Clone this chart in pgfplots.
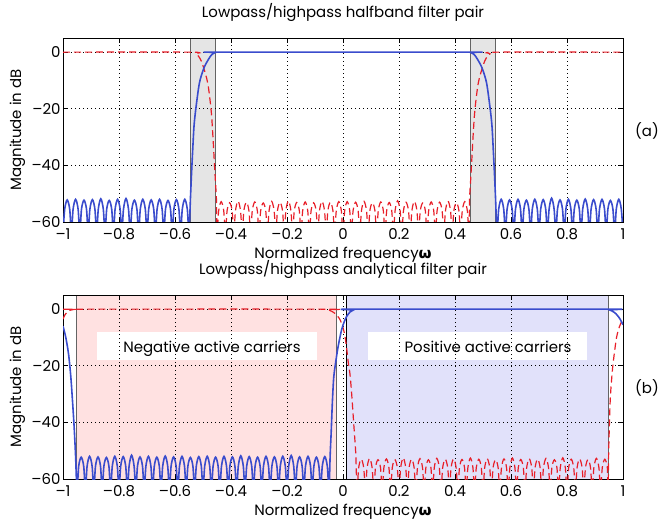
\documentclass[border=0pt]{standalone}
\usepackage{fontspec}
\setmainfont{Poppins}
\newfontfamily\grk{DejaVu Sans}
\usepackage{pgfplots}
\pgfplotsset{compat=1.18}

\newcommand\fs{\fontsize{15}{17}\selectfont}
\definecolor{lpblue}{RGB}{58,76,205}
\definecolor{hpred}{RGB}{232,30,40}
\definecolor{bandgray}{RGB}{229,229,229}
\definecolor{negpink}{RGB}{255,225,225}
\definecolor{poslav}{RGB}{225,225,250}
\definecolor{edgegray}{RGB}{100,100,100}

\pgfplotsset{
  mlab/.style={
    width=560bp, height=184bp, scale only axis,
    xmin=-1, xmax=1, ymin=-60, ymax=5,
    xtick={-1,-0.8,-0.6,-0.4,-0.2,0,0.2,0.4,0.6,0.8,1},
    xticklabels={–1,–0.8,–0.6,–0.4,–0.2,0,0.2,0.4,0.6,0.8,1},
    ytick={-60,-40,-20,0},
    yticklabels={–60,–40,–20,0},
    tick align=inside, major tick length=5bp,
    tick style={black, line width=0.6bp},
    grid=major,
    major grid style={black, line width=0.7bp, dash pattern=on 1bp off 3bp},
    axis line style={black, line width=0.8bp},
    tick label style={font=\fs},
    xticklabel style={yshift=-3bp},
    yticklabel style={xshift=1bp},
    set layers,
    xlabel={Normalized frequency{\grk\bfseries ω}},
    ylabel={Magnitude in dB},
    label style={font=\fs},
    xlabel style={at={(axis description cs:0.5,-0.196)}, anchor=base},
    ylabel style={at={(axis description cs:-0.075,0.5)}, anchor=base},
    title style={at={(axis description cs:0.5,1.08)}, anchor=base, font=\fs},
  },
  lp/.style={lpblue, line width=1.6bp, smooth, tension=0.5},
  hp/.style={hpred, line width=1.2bp, smooth, tension=0.5, dash pattern=on 7bp off 4bp},
}

\begin{document}
\begin{tikzpicture}
% ---------------- (a) halfband pair ----------------
\begin{axis}[mlab, at={(0,0)}, title={Lowpass/highpass halfband filter pair}]
\begin{pgfonlayer}{axis background}
  \fill[bandgray] (axis cs:-0.546,-60) rectangle (axis cs:-0.454,5);
  \fill[bandgray] (axis cs:0.454,-60) rectangle (axis cs:0.546,5);
  \draw[edgegray, line width=0.8bp] (axis cs:-0.546,-60) -- (axis cs:-0.546,5)
        (axis cs:-0.454,-60) -- (axis cs:-0.454,5)
        (axis cs:0.454,-60) -- (axis cs:0.454,5)
        (axis cs:0.546,-60) -- (axis cs:0.546,5);
\end{pgfonlayer}
\addplot[hp] table {
-1.000 0
-0.545 0
-0.525 -0.6
-0.512 -2
-0.500 -4.8
-0.483 -11
-0.471 -20.5
-0.465 -29
-0.460 -38
-0.456 -45
-0.452 -52
-0.450 -64
-0.444 -56
-0.435 -52.8
-0.426 -56
-0.420 -64
-0.414 -56
-0.405 -53.2
-0.396 -56
-0.390 -64
-0.384 -56
-0.375 -52.6
-0.366 -56
-0.360 -64
-0.354 -56
-0.345 -53.0
-0.336 -56
-0.330 -64
-0.324 -56
-0.315 -52.9
-0.306 -56
-0.300 -64
-0.294 -56
-0.285 -53.3
-0.276 -56
-0.270 -64
-0.264 -56
-0.255 -52.7
-0.246 -56
-0.240 -64
-0.234 -56
-0.225 -53.0
-0.216 -56
-0.210 -64
-0.204 -56
-0.195 -52.5
-0.186 -56
-0.180 -64
-0.174 -56
-0.165 -53.1
-0.156 -56
-0.150 -64
-0.144 -56
-0.135 -52.9
-0.126 -56
-0.120 -64
-0.114 -56
-0.105 -53.2
-0.096 -56
-0.090 -64
-0.084 -56
-0.075 -52.7
-0.066 -56
-0.060 -64
-0.054 -56
-0.045 -53.0
-0.036 -56
-0.030 -64
-0.024 -56
-0.015 -52.8
-0.006 -56
0.000 -64
0.006 -56
0.015 -52.8
0.024 -56
0.030 -64
0.036 -56
0.045 -53.0
0.054 -56
0.060 -64
0.066 -56
0.075 -52.7
0.084 -56
0.090 -64
0.096 -56
0.105 -53.2
0.114 -56
0.120 -64
0.126 -56
0.135 -52.9
0.144 -56
0.150 -64
0.156 -56
0.165 -53.1
0.174 -56
0.180 -64
0.186 -56
0.195 -52.5
0.204 -56
0.210 -64
0.216 -56
0.225 -53.0
0.234 -56
0.240 -64
0.246 -56
0.255 -52.7
0.264 -56
0.270 -64
0.276 -56
0.285 -53.3
0.294 -56
0.300 -64
0.306 -56
0.315 -52.9
0.324 -56
0.330 -64
0.336 -56
0.345 -53.0
0.354 -56
0.360 -64
0.366 -56
0.375 -52.6
0.384 -56
0.390 -64
0.396 -56
0.405 -53.2
0.414 -56
0.420 -64
0.426 -56
0.435 -52.8
0.444 -56
0.450 -64
0.452 -52
0.456 -45
0.460 -38
0.465 -29
0.471 -20.5
0.483 -11
0.500 -4.8
0.512 -2
0.525 -0.6
0.545 0
1.000 0
};
\addplot[lp] table {
-1.000 -64
-0.994 -55.5
-0.985 -52.2
-0.976 -55.5
-0.970 -64
-0.964 -55.5
-0.955 -52.0
-0.946 -55.5
-0.940 -64
-0.934 -55.5
-0.925 -52.3
-0.916 -55.5
-0.910 -64
-0.904 -55.5
-0.895 -52.1
-0.886 -55.5
-0.880 -64
-0.874 -55.5
-0.865 -51.8
-0.856 -55.5
-0.850 -64
-0.844 -55.5
-0.835 -52.4
-0.826 -55.5
-0.820 -64
-0.814 -55.5
-0.805 -52.0
-0.796 -55.5
-0.790 -64
-0.784 -55.5
-0.775 -51.7
-0.766 -55.5
-0.760 -64
-0.754 -55.5
-0.745 -52.3
-0.736 -55.5
-0.730 -64
-0.724 -55.5
-0.715 -52.0
-0.706 -55.5
-0.700 -64
-0.694 -55.5
-0.685 -52.2
-0.676 -55.5
-0.670 -64
-0.664 -55.5
-0.655 -52.0
-0.646 -55.5
-0.640 -64
-0.634 -55.5
-0.625 -52.4
-0.616 -55.5
-0.610 -64
-0.604 -55.5
-0.595 -52.1
-0.586 -55.5
-0.580 -64
-0.574 -55.5
-0.565 -52.0
-0.556 -55.5
-0.550 -64
-0.545 -52
-0.541 -43
-0.537 -35
-0.532 -26
-0.525 -19.5
-0.513 -11
-0.500 -6.5
-0.489 -4
-0.470 -1
-0.455 -0.1
-0.440 0
0.440 0
0.455 -0.1
0.470 -1
0.489 -4
0.500 -6.5
0.513 -11
0.525 -19.5
0.532 -26
0.537 -35
0.541 -43
0.545 -52
0.550 -64
0.556 -55.5
0.565 -52.0
0.574 -55.5
0.580 -64
0.586 -55.5
0.595 -52.2
0.604 -55.5
0.610 -64
0.616 -55.5
0.625 -52.0
0.634 -55.5
0.640 -64
0.646 -55.5
0.655 -52.3
0.664 -55.5
0.670 -64
0.676 -55.5
0.685 -52.0
0.694 -55.5
0.700 -64
0.706 -55.5
0.715 -52.1
0.724 -55.5
0.730 -64
0.736 -55.5
0.745 -51.6
0.754 -55.5
0.760 -64
0.766 -55.5
0.775 -52.2
0.784 -55.5
0.790 -64
0.796 -55.5
0.805 -52.0
0.814 -55.5
0.820 -64
0.826 -55.5
0.835 -52.3
0.844 -55.5
0.850 -64
0.856 -55.5
0.865 -51.9
0.874 -55.5
0.880 -64
0.886 -55.5
0.895 -52.1
0.904 -55.5
0.910 -64
0.916 -55.5
0.925 -52.0
0.934 -55.5
0.940 -64
0.946 -55.5
0.955 -52.4
0.964 -55.5
0.970 -64
0.976 -55.5
0.985 -52.0
0.994 -55.5
1.000 -64
};
\end{axis}
\node[font=\fs] at (584bp,91bp) {(a)};

% ---------------- (b) analytical pair ----------------
\begin{axis}[mlab, at={(0,-257bp)}, title={Lowpass/highpass analytical filter pair}]
\begin{pgfonlayer}{axis background}
  \fill[negpink] (axis cs:-0.953,-60) rectangle (axis cs:-0.022,5);
  \fill[poslav] (axis cs:0.011,-60) rectangle (axis cs:0.947,5);
  \draw[edgegray, line width=0.8bp] (axis cs:-0.953,-60) -- (axis cs:-0.953,5)
        (axis cs:-0.022,-60) -- (axis cs:-0.022,5)
        (axis cs:0.947,-60) -- (axis cs:0.947,5);
  \draw[black, line width=0.8bp] (axis cs:0.011,-60) -- (axis cs:0.011,5);
  \fill[white] (axis cs:-0.879,-7.9) rectangle (axis cs:-0.093,-17.9);
  \fill[white] (axis cs:0.088,-7.9) rectangle (axis cs:0.873,-17.9);
  \node[font=\fs, anchor=base] at (axis cs:-0.468,-15.3) {Negative active carriers};
  \node[font=\fs, anchor=base] at (axis cs:0.518,-15.3) {Positive active carriers};
\end{pgfonlayer}
\addplot[hp] table {
-1.000 -3.5
-0.993 -2
-0.985 -1
-0.975 -0.4
-0.960 -0.1
-0.950 0
-0.070 0
-0.050 -0.3
-0.030 -1.4
-0.015 -3
-0.005 -5
0.005 -8.5
0.012 -13
0.019 -19
0.025 -23
0.031 -30
0.038 -40
0.043 -47
0.046 -52
0.050 -64
0.056 -56
0.065 -53.0
0.074 -56
0.080 -64
0.086 -56
0.095 -52.7
0.104 -56
0.110 -64
0.116 -56
0.125 -53.2
0.134 -56
0.140 -64
0.146 -56
0.155 -52.9
0.164 -56
0.170 -64
0.176 -56
0.185 -53.1
0.194 -56
0.200 -64
0.206 -56
0.215 -52.5
0.224 -56
0.230 -64
0.236 -56
0.245 -53.0
0.254 -56
0.260 -64
0.266 -56
0.275 -52.8
0.284 -56
0.290 -64
0.296 -56
0.305 -53.2
0.314 -56
0.320 -64
0.326 -56
0.335 -52.7
0.344 -56
0.350 -64
0.356 -56
0.365 -53.0
0.374 -56
0.380 -64
0.386 -56
0.395 -52.9
0.404 -56
0.410 -64
0.416 -56
0.425 -53.1
0.434 -56
0.440 -64
0.446 -56
0.455 -52.6
0.464 -56
0.470 -64
0.476 -56
0.485 -53.0
0.494 -56
0.500 -64
0.506 -56
0.515 -52.8
0.524 -56
0.530 -64
0.536 -56
0.545 -53.2
0.554 -56
0.560 -64
0.566 -56
0.575 -52.9
0.584 -56
0.590 -64
0.596 -56
0.605 -52.6
0.614 -56
0.620 -64
0.626 -56
0.635 -53.1
0.644 -56
0.650 -64
0.656 -56
0.665 -52.8
0.674 -56
0.680 -64
0.686 -56
0.695 -53.0
0.704 -56
0.710 -64
0.716 -56
0.725 -52.7
0.734 -56
0.740 -64
0.746 -56
0.755 -53.2
0.764 -56
0.770 -64
0.776 -56
0.785 -52.5
0.794 -56
0.800 -64
0.806 -56
0.815 -53.0
0.824 -56
0.830 -64
0.836 -56
0.845 -52.9
0.854 -56
0.860 -64
0.866 -56
0.875 -53.1
0.884 -56
0.890 -64
0.896 -56
0.905 -52.7
0.914 -56
0.920 -64
0.926 -56
0.935 -53.0
0.944 -56
0.947 -64
0.949 -50
0.954 -33
0.960 -24
0.966 -18
0.977 -10
0.988 -6
1.000 -3.5
};
\addplot[lp] table {
-1.000 -6
-0.990 -10
-0.980 -16
-0.972 -24
-0.965 -34
-0.960 -42
-0.955 -52
-0.950 -64
-0.944 -55.5
-0.935 -52.3
-0.926 -55.5
-0.920 -64
-0.914 -55.5
-0.905 -52.0
-0.896 -55.5
-0.890 -64
-0.884 -55.5
-0.875 -52.2
-0.866 -55.5
-0.860 -64
-0.854 -55.5
-0.845 -52.4
-0.836 -55.5
-0.830 -64
-0.824 -55.5
-0.815 -52.0
-0.806 -55.5
-0.800 -64
-0.794 -55.5
-0.785 -52.1
-0.776 -55.5
-0.770 -64
-0.764 -55.5
-0.755 -51.6
-0.746 -55.5
-0.740 -64
-0.734 -55.5
-0.725 -52.2
-0.716 -55.5
-0.710 -64
-0.704 -55.5
-0.695 -52.0
-0.686 -55.5
-0.680 -64
-0.674 -55.5
-0.665 -52.3
-0.656 -55.5
-0.650 -64
-0.644 -55.5
-0.635 -51.9
-0.626 -55.5
-0.620 -64
-0.614 -55.5
-0.605 -52.2
-0.596 -55.5
-0.590 -64
-0.584 -55.5
-0.575 -52.0
-0.566 -55.5
-0.560 -64
-0.554 -55.5
-0.545 -52.4
-0.536 -55.5
-0.530 -64
-0.524 -55.5
-0.515 -52.1
-0.506 -55.5
-0.500 -64
-0.494 -55.5
-0.485 -52.0
-0.476 -55.5
-0.470 -64
-0.464 -55.5
-0.455 -52.3
-0.446 -55.5
-0.440 -64
-0.434 -55.5
-0.425 -52.0
-0.416 -55.5
-0.410 -64
-0.404 -55.5
-0.395 -52.2
-0.386 -55.5
-0.380 -64
-0.374 -55.5
-0.365 -51.8
-0.356 -55.5
-0.350 -64
-0.344 -55.5
-0.335 -52.1
-0.326 -55.5
-0.320 -64
-0.314 -55.5
-0.305 -52.3
-0.296 -55.5
-0.290 -64
-0.284 -55.5
-0.275 -52.0
-0.266 -55.5
-0.260 -64
-0.254 -55.5
-0.245 -52.2
-0.236 -55.5
-0.230 -64
-0.224 -55.5
-0.215 -52.0
-0.206 -55.5
-0.200 -64
-0.194 -55.5
-0.185 -51.7
-0.176 -55.5
-0.170 -64
-0.164 -55.5
-0.155 -52.2
-0.146 -55.5
-0.140 -64
-0.134 -55.5
-0.125 -52.0
-0.116 -55.5
-0.110 -64
-0.104 -55.5
-0.095 -52.3
-0.086 -55.5
-0.080 -64
-0.074 -55.5
-0.065 -52.1
-0.056 -55.5
-0.050 -64
-0.046 -52
-0.042 -43
-0.038 -33
-0.033 -24
-0.025 -18
-0.017 -13
-0.005 -7.3
0.005 -4.3
0.013 -2.6
0.025 -1.0
0.037 -0.3
0.050 0
0.940 0
0.950 -0.2
0.960 -0.6
0.970 -1.2
0.980 -2.2
0.990 -3.6
1.000 -5.5
};
\end{axis}
\node[font=\fs] at (584bp,-166bp) {(b)};

\pgfresetboundingbox
\useasboundingbox (-63bp,-297bp) rectangle (595bp,222bp);
\end{tikzpicture}
\end{document}
